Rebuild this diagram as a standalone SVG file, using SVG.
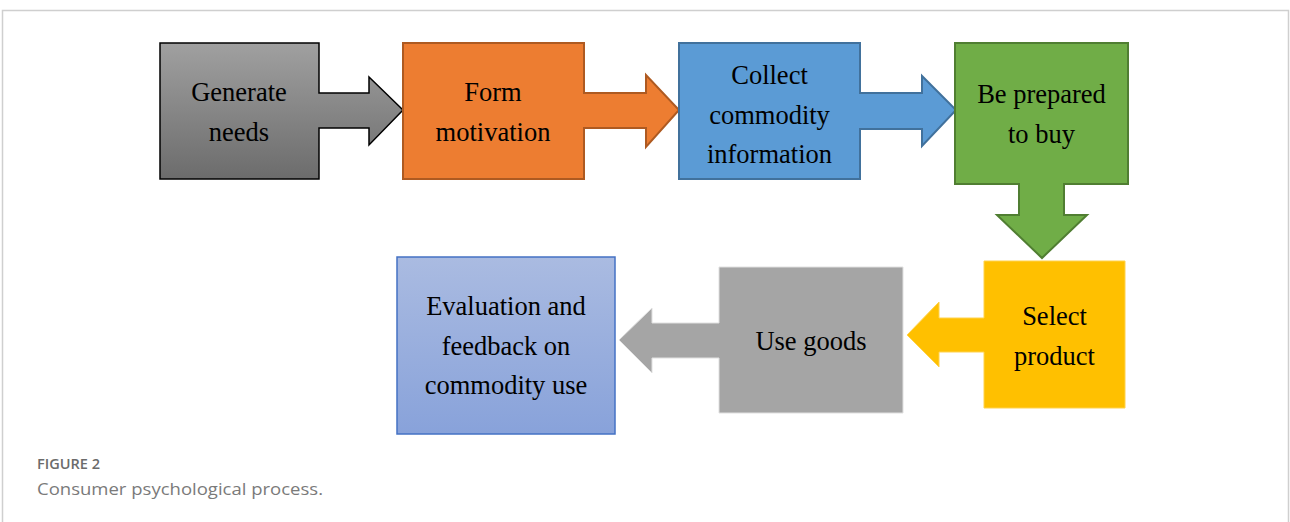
<svg xmlns="http://www.w3.org/2000/svg" width="1290" height="522" viewBox="0 0 1290 522">
<defs>
<linearGradient id="gGray" x1="0" y1="0" x2="0" y2="1"><stop offset="0" stop-color="#a0a0a0"/><stop offset="1" stop-color="#6c6c6c"/></linearGradient>
<linearGradient id="gBlue" x1="0" y1="0" x2="0" y2="1"><stop offset="0" stop-color="#aabbe1"/><stop offset="1" stop-color="#88a2da"/></linearGradient>
<style>
.t{font-family:"Liberation Serif","Times New Roman",serif;font-size:26.5px;fill:#000;text-anchor:middle}
.cap1{font-family:"Open Sans",Lato,sans-serif;font-size:14px;font-weight:600;fill:#6b6b6b}
.cap2{font-family:"Open Sans",Lato,sans-serif;font-size:16.5px;fill:#7a7a7a}
</style>
</defs>
<rect width="1290" height="522" fill="#fff"/>
<path d="M2.5,522 V10.5 H1288.5 V522" fill="none" stroke="#cfcfcf" stroke-width="1.5"/>
<g id="connectors"/>
<g id="n1">
<path d="M160,43 H319 V93 H369 V77 L403,110 L369,145 V128 H319 V179 H160 Z" fill="url(#gGray)" stroke="#000" stroke-width="1.5"/>
<text class="t" x="239" y="101">Generate</text>
<text class="t" x="239" y="141">needs</text>
</g>
<g id="n2">
<path d="M403,43 H584 V93 H646 V75 L679,110 L646,147 V128 H584 V179 H403 Z" fill="#ED7D31" stroke="#AE5A21" stroke-width="2"/>
<text class="t" x="493" y="101">Form</text>
<text class="t" x="493" y="141">motivation</text>
</g>
<g id="n3">
<path d="M679,43 H860 V93 H922 V76 L956,110 L922,146 V129 H860 V179 H679 Z" fill="#5B9BD5" stroke="#41719C" stroke-width="2"/>
<text class="t" x="769.5" y="84">Collect</text>
<text class="t" x="769.5" y="124">commodity</text>
<text class="t" x="769.5" y="163">information</text>
</g>
<g id="n4">
<path d="M955,43 H1128 V184 H1064 V215 H1087 L1042,258 L997,215 H1019 V184 H955 Z" fill="#70AD47" stroke="#507E32" stroke-width="2"/>
<text class="t" x="1041.5" y="103">Be prepared</text>
<text class="t" x="1041.5" y="143">to buy</text>
</g>
<g id="n5">
<path d="M984,261 H1125 V408 H984 V352 H939 V367 L907,335 L939,302 V318 H984 Z" fill="#FFC000" stroke="#FFD24D" stroke-width="1"/>
<text class="t" x="1054.5" y="325">Select</text>
<text class="t" x="1054.5" y="365">product</text>
</g>
<g id="n6">
<path d="M719,267 H903 V413 H719 V358 H652 V373 L619,340 L652,308 V323 H719 Z" fill="#A5A5A5" stroke="#e0e0e0" stroke-width="1"/>
<text class="t" x="811" y="350">Use goods</text>
</g>
<g id="n7">
<rect x="397" y="257" width="218" height="177" fill="url(#gBlue)" stroke="#4472C4" stroke-width="1.5"/>
<text class="t" x="506" y="315">Evaluation and</text>
<text class="t" x="506" y="355">feedback on</text>
<text class="t" x="506" y="394">commodity use</text>
</g>
<text class="cap1" x="37" y="469" textLength="63" lengthAdjust="spacingAndGlyphs">FIGURE 2</text>
<text class="cap2" x="37" y="495" textLength="286" lengthAdjust="spacingAndGlyphs">Consumer psychological process.</text>
</svg>
